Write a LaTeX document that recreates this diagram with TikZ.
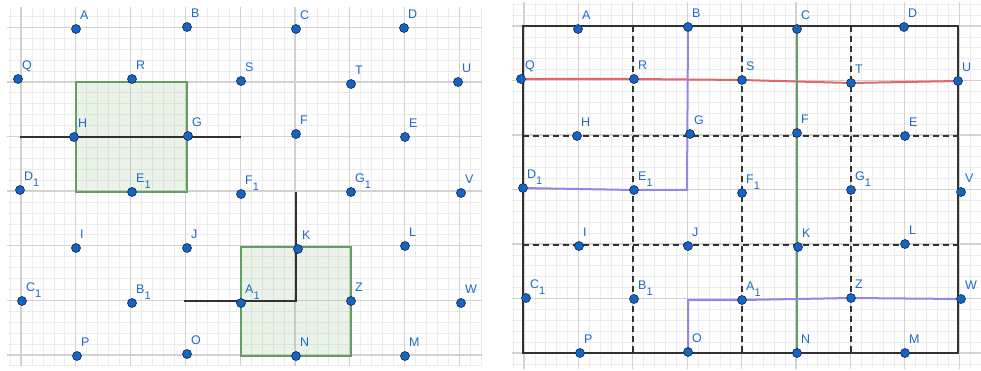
\documentclass[tikz,border=0pt]{standalone}
\usepackage{fontspec}
\setmainfont{Liberation Sans}
\begin{document}
\begin{tikzpicture}[x=1pt,y=-1pt]
\definecolor{ptblue}{RGB}{21,101,192}
\definecolor{lblblue}{RGB}{30,108,200}
\definecolor{ptedge}{RGB}{15,40,80}
\definecolor{gmin}{RGB}{236,236,236}
\definecolor{gmaj}{RGB}{210,210,210}
\definecolor{lnblack}{RGB}{50,50,50}
\definecolor{lnred}{RGB}{224,104,104}
\definecolor{lngreen}{RGB}{98,160,98}
\definecolor{lnpurple}{RGB}{152,132,228}
\tikzset{
  minorg/.style={draw=gmin, line width=0.7pt},
  majorg/.style={draw=gmaj, line width=1.3pt},
  dot/.style={circle, fill=ptblue, draw=ptedge, line width=0.6pt, minimum size=9pt, inner sep=0pt},
  lbl/.style={text=lblblue, font=\fontsize{12.5}{13}\selectfont, inner sep=0pt, anchor=base west},
  solidblk/.style={draw=lnblack, line width=2.2pt},
  dashblk/.style={draw=lnblack, line width=1.9pt, dash pattern=on 6pt off 4pt},
  redln/.style={draw=lnred, line width=2pt},
  greenln/.style={draw=lngreen, line width=2pt},
  purpleln/.style={draw=lnpurple, line width=2pt},
  sqbox/.style={draw=lngreen, line width=1.8pt, fill=lngreen, fill opacity=0.13}
}
\newcommand\gsub[1]{\raisebox{-6pt}{\fontsize{11}{11}\selectfont #1}}
\newcommand\gpt[4]{\node[dot] (#1) at (#2,#3) {}; \node[lbl] (#1-l) at ([shift={(4,-9.5)}]#1.center) {#4};}
\useasboundingbox (0,0) rectangle (981,371);
\fill[white] (0,0) rectangle (981,371);
% ---------- left grid ----------
\foreach \k in {-1,...,42}{\pgfmathsetmacro\xx{21+\k*10.96}\draw[minorg] (\xx,7) -- (\xx,366);}
\foreach \k in {-1,...,31}{\pgfmathsetmacro\yy{27.3+\k*10.92}\draw[minorg] (7,\yy) -- (482,\yy);}
\foreach \k in {0,...,8}{\pgfmathsetmacro\xx{21+\k*54.8}\draw[majorg] (\xx,7) -- (\xx,366);}
\foreach \k in {0,...,6}{\pgfmathsetmacro\yy{27.3+\k*54.6}\draw[majorg] (7,\yy) -- (482,\yy);}
% ---------- right grid ----------
\foreach \k in {-1,...,41}{\pgfmathsetmacro\xx{524+\k*10.88}\draw[minorg] (\xx,2) -- (\xx,369);}
\foreach \k in {-2,...,31}{\pgfmathsetmacro\yy{26+\k*10.9}\draw[minorg] (512,\yy) -- (981,\yy);}
\foreach \k in {0,...,8}{\pgfmathsetmacro\xx{524+\k*54.4}\draw[majorg] (\xx,2) -- (\xx,369);}
\foreach \k in {0,...,6}{\pgfmathsetmacro\yy{26+\k*54.5}\draw[majorg] (512,\yy) -- (981,\yy);}
% ---------- left panel shapes ----------
\coordinate (sq1a) at (76,82); \coordinate (sq1b) at (187,192);
\coordinate (sq2a) at (241,247); \coordinate (sq2b) at (351,356);
\draw[sqbox] (sq1a) rectangle (sq1b);
\draw[sqbox] (sq2a) rectangle (sq2b);
\coordinate (hl1) at (20,137); \coordinate (hl2) at (241,137);
\draw[solidblk] (hl1) -- (hl2);
\coordinate (kl1) at (184,301); \coordinate (kl2) at (296,301); \coordinate (kl3) at (296,192);
\draw[solidblk] (kl1) -- (kl2) -- (kl3);
% ---------- right panel shapes ----------
\coordinate (rtl) at (523,26); \coordinate (rbr) at (958,353);
\coordinate (dv1t) at (633,26); \coordinate (dv1b) at (633,353);
\coordinate (dv2t) at (742,26); \coordinate (dv2b) at (742,353);
\coordinate (dv3t) at (851,26); \coordinate (dv3b) at (851,353);
\coordinate (dh1l) at (523,136); \coordinate (dh1r) at (958,136);
\coordinate (dh2l) at (523,245); \coordinate (dh2r) at (958,245);
\draw[dashblk] (dv1t) -- (dv1b);
\draw[dashblk] (dv2t) -- (dv2b);
\draw[dashblk] (dv3t) -- (dv3b);
\draw[dashblk] (dh1l) -- (dh1r);
\draw[dashblk] (dh2l) -- (dh2r);
\draw[solidblk, line width=2.4pt] (rtl) rectangle (rbr);
\coordinate (pk1) at (687,190); \coordinate (pk2) at (688,300);
% ---------- left points ----------
\gpt{LA}{76}{29}{A}
\gpt{LB}{187}{27}{B}
\gpt{LC}{296}{29}{C}
\gpt{LD}{404}{28}{D}
\gpt{LQ}{18}{79}{Q}
\gpt{LR}{132}{79}{R}
\gpt{LS}{241}{81}{S}
\gpt{LT}{351}{84}{T}
\gpt{LU}{458}{82}{U}
\gpt{LH}{74}{137}{H}
\gpt{LG}{188}{136}{G}
\gpt{LF}{296}{134}{F}
\gpt{LE}{405}{137}{E}
\gpt{LD1}{20}{190}{D\gsub{1}}
\gpt{LE1}{132}{192}{E\gsub{1}}
\gpt{LF1}{241}{194}{F\gsub{1}}
\gpt{LG1}{351}{192}{G\gsub{1}}
\gpt{LV}{461}{193}{V}
\gpt{LI}{76}{248}{I}
\gpt{LJ}{187}{248}{J}
\gpt{LK}{298}{249}{K}
\gpt{LL}{405}{246}{L}
\gpt{LC1}{22}{301}{C\gsub{1}}
\gpt{LB1}{132}{303}{B\gsub{1}}
\gpt{LA1}{241}{303}{A\gsub{1}}
\gpt{LZ}{351}{301}{Z}
\gpt{LW}{461}{303}{W}
\gpt{LP}{77}{356}{P}
\gpt{LO}{187}{354}{O}
\gpt{LN}{296}{356}{N}
\gpt{LM}{405}{356}{M}
% ---------- right points (coordinates first for lines) ----------
\coordinate (cQ) at (521,79); \coordinate (cR) at (634,79); \coordinate (cS) at (742,80);
\coordinate (cT) at (851,83); \coordinate (cU) at (958,81);
\coordinate (cC) at (797,29); \coordinate (cN) at (797,353);
\coordinate (cB) at (688,27); \coordinate (cE1) at (634,190); \coordinate (cD1) at (523,188);
\coordinate (cO) at (688,352); \coordinate (cA1) at (742,300); \coordinate (cZ) at (851,298); \coordinate (cW) at (961,299);
\draw[redln] (cQ) -- (cR) -- (cS) -- (cT) -- (cU);
\draw[greenln] (cC) -- (cN);
\draw[purpleln] (cB) -- (pk1) -- (cE1) -- (cD1);
\draw[purpleln] (cO) -- (pk2) -- (cA1) -- (cZ) -- (cW);
\gpt{RA}{578}{29}{A}
\gpt{RB}{688}{27}{B}
\gpt{RC}{797}{29}{C}
\gpt{RD}{904}{27}{D}
\gpt{RQ}{521}{79}{Q}
\gpt{RR}{634}{79}{R}
\gpt{RS}{742}{80}{S}
\gpt{RT}{851}{83}{T}
\gpt{RU}{958}{81}{U}
\gpt{RH}{577}{136}{H}
\gpt{RG}{690}{134}{G}
\gpt{RF}{797}{133}{F}
\gpt{RE}{905}{136}{E}
\gpt{RD1}{523}{188}{D\gsub{1}}
\gpt{RE1}{634}{190}{E\gsub{1}}
\gpt{RF1}{742}{193}{F\gsub{1}}
\gpt{RG1}{851}{190}{G\gsub{1}}
\gpt{RV}{961}{192}{V}
\gpt{RI}{579}{246}{I}
\gpt{RJ}{688}{246}{J}
\gpt{RK}{798}{247}{K}
\gpt{RL}{905}{244}{L}
\gpt{RC1}{526}{298}{C\gsub{1}}
\gpt{RB1}{634}{299}{B\gsub{1}}
\gpt{RA1}{742}{300}{A\gsub{1}}
\gpt{RZ}{851}{298}{Z}
\gpt{RW}{961}{299}{W}
\gpt{RP}{580}{353}{P}
\gpt{RO}{688}{352}{O}
\gpt{RN}{797}{353}{N}
\gpt{RM}{905}{353}{M}
\end{tikzpicture}
\end{document}
